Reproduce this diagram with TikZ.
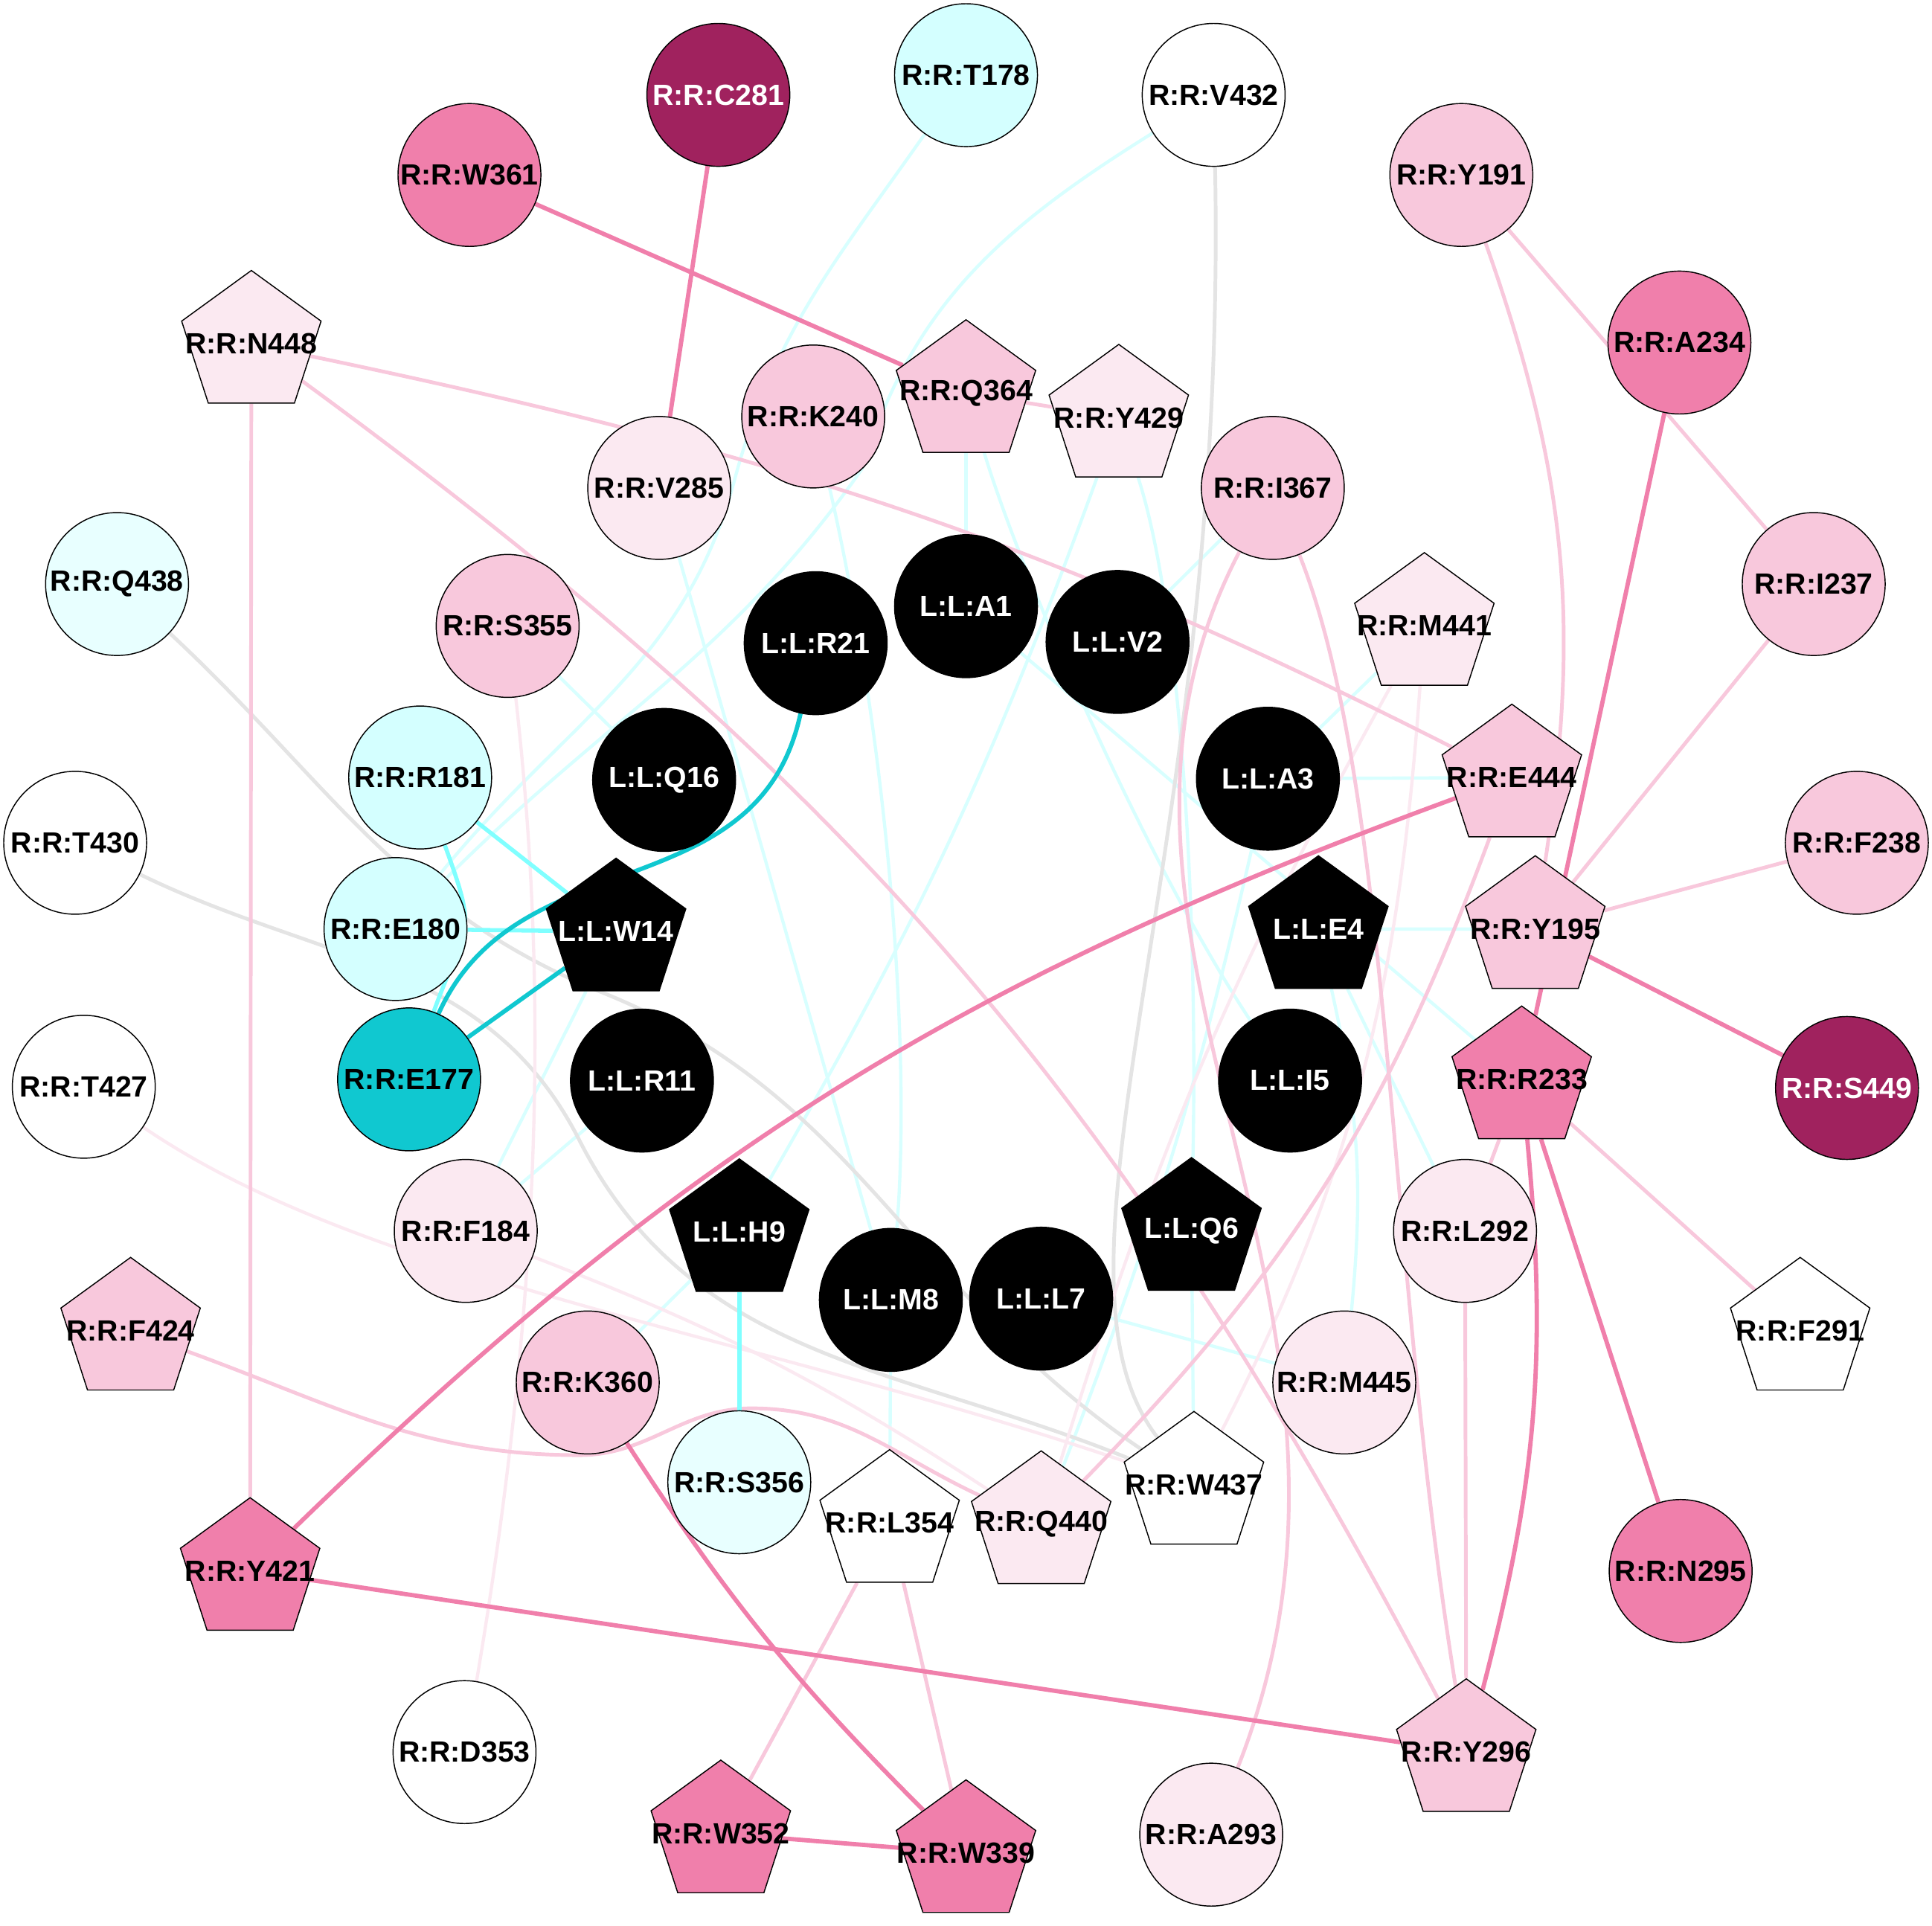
\documentclass[tikz,border=0pt]{standalone}
\usepackage{fontspec}
\setmainfont{Liberation Sans}
\usetikzlibrary{shapes.geometric}
\pgfdeclarelayer{background}
\pgfsetlayers{background,main}
\definecolor{cP}{HTML}{F07FAB}
\definecolor{cD}{HTML}{A0225E}
\definecolor{cL}{HTML}{F8C8DC}
\definecolor{cVL}{HTML}{FBE9F1}
\definecolor{cC}{HTML}{D4FFFF}
\definecolor{cVC}{HTML}{E8FFFF}
\definecolor{cT}{HTML}{10C8D0}
\definecolor{eM}{HTML}{80FFFF}
\definecolor{eL}{HTML}{D8FFFF}
\definecolor{eG}{HTML}{E4E4E4}
\newcommand\resfont{\fontsize{13.5}{15}\selectfont\bfseries}
\newcommand\lb[1]{\makebox[0pt]{#1}}
\tikzset{
  res/.style={circle, draw=black, line width=0.5pt, minimum size=2.32cm, inner sep=0pt, font=\resfont},
  pent/.style={regular polygon, regular polygon sides=5, draw=black, line width=0.5pt, minimum size=2.38cm, inner sep=0pt, font=\resfont},
  lig/.style={fill=black, text=white},
  pS/.style={draw=cP, line width=2pt},
  pL/.style={draw=cL, line width=1.7pt},
  pV/.style={draw=cVL, line width=1.5pt},
  gE/.style={draw=eG, line width=1.7pt},
  cE/.style={draw=eL, line width=1.5pt},
  cM/.style={draw=eM, line width=1.9pt},
  cX/.style={draw=cT, line width=2pt},
}
\begin{document}
\begin{tikzpicture}[x=0.02cm, y=-0.02cm]
\useasboundingbox (0,0) rectangle (1568,1563);
% circles
\node[res, fill=cP] (W361) at (381,142) {\lb{R:R:W361}};
\node[res, fill=cD, text=white] (C281) at (583,77) {\lb{R:R:C281}};
\node[res, fill=cC] (T178) at (784,61) {\lb{R:R:T178}};
\node[res, fill=white] (V432) at (985,77) {\lb{R:R:V432}};
\node[res, fill=cL] (Y191) at (1186,142) {\lb{R:R:Y191}};
\node[res, fill=cP] (A234) at (1363,278) {\lb{R:R:A234}};
\node[res, fill=cL] (K240) at (660,338) {\lb{R:R:K240}};
\node[res, fill=cVL] (V285) at (535,396) {\lb{R:R:V285}};
\node[res, fill=cL] (I367) at (1033,396) {\lb{R:R:I367}};
\node[res, fill=cVC] (Q438) at (95,474) {\lb{R:R:Q438}};
\node[res, fill=cL] (I237) at (1472,474) {\lb{R:R:I237}};
\node[res, fill=cL] (S355) at (412,508) {\lb{R:R:S355}};
\node[res, lig] (A1) at (784,492) {\lb{L:L:A1}};
\node[res, lig] (V2) at (907,521) {\lb{L:L:V2}};
\node[res, lig] (R21) at (662,522) {\lb{L:L:R21}};
\node[res, fill=cC] (R181) at (341,631) {\lb{R:R:R181}};
\node[res, lig] (Q16) at (539,633) {\lb{L:L:Q16}};
\node[res, lig] (A3) at (1029,632) {\lb{L:L:A3}};
\node[res, fill=white] (T430) at (61,684) {\lb{R:R:T430}};
\node[res, fill=cL] (F238) at (1507,684) {\lb{R:R:F238}};
\node[res, fill=cC] (E180) at (321,754) {\lb{R:R:E180}};
\node[res, fill=cT] (E177) at (332,876) {\lb{R:R:E177}};
\node[res, lig] (R11) at (521,877) {\lb{L:L:R11}};
\node[res, lig] (I5) at (1047,877) {\lb{L:L:I5}};
\node[res, fill=white] (T427) at (68,882) {\lb{R:R:T427}};
\node[res, fill=cD, text=white] (S449) at (1499,883) {\lb{R:R:S449}};
\node[res, fill=cVL] (F184) at (378,999) {\lb{R:R:F184}};
\node[res, fill=cVL] (L292) at (1189,999) {\lb{R:R:L292}};
\node[res, lig] (M8) at (723,1055) {\lb{L:L:M8}};
\node[res, lig] (L7) at (845,1054) {\lb{L:L:L7}};
\node[res, fill=cL] (K360) at (477,1122) {\lb{R:R:K360}};
\node[res, fill=cVL] (M445) at (1091,1122) {\lb{R:R:M445}};
\node[res, fill=cVC] (S356) at (600,1203) {\lb{R:R:S356}};
\node[res, fill=cP] (N295) at (1364,1275) {\lb{R:R:N295}};
\node[res, fill=white] (D353) at (377,1422) {\lb{R:R:D353}};
\node[res, fill=cVL] (A293) at (983,1489) {\lb{R:R:A293}};
% pentagons
\node[pent, fill=cVL] (N448) at (204,279) {\lb{R:R:N448}};
\node[pent, fill=cL] (Q364) at (784,319) {\lb{R:R:Q364}};
\node[pent, fill=cVL] (Y429) at (908,339) {\lb{R:R:Y429}};
\node[pent, fill=cVL] (M441) at (1156,508) {\lb{R:R:M441}};
\node[pent, fill=cL] (E444) at (1227,631) {\lb{R:R:E444}};
\node[pent, lig] (W14) at (500,756) {\lb{L:L:W14}};
\node[pent, lig] (E4) at (1070,754) {\lb{L:L:E4}};
\node[pent, fill=cL] (Y195) at (1246,754) {\lb{R:R:Y195}};
\node[pent, fill=cP] (R233) at (1235,876) {\lb{R:R:R233}};
\node[pent, lig] (H9) at (600,1000) {\lb{L:L:H9}};
\node[pent, lig] (Q6) at (967,999) {\lb{L:L:Q6}};
\node[pent, fill=cL] (F424) at (106,1080) {\lb{R:R:F424}};
\node[pent, fill=white] (F291) at (1461,1080) {\lb{R:R:F291}};
\node[pent, fill=white] (W437) at (969,1205) {\lb{R:R:W437}};
\node[pent, fill=white] (L354) at (722,1236) {\lb{R:R:L354}};
\node[pent, fill=cVL] (Q440) at (845,1237) {\lb{R:R:Q440}};
\node[pent, fill=cP] (Y421) at (203,1275) {\lb{R:R:Y421}};
\node[pent, fill=cL] (Y296) at (1190,1422) {\lb{R:R:Y296}};
\node[pent, fill=cP] (W352) at (585,1488) {\lb{R:R:W352}};
\node[pent, fill=cP] (W339) at (784,1504) {\lb{R:R:W339}};
% way points of curved connectors
\coordinate (f1) at (470,1181);
\coordinate (f2) at (610,1143);
\coordinate (wq) at (490,806);
\coordinate (wt) at (470,925);
\coordinate (wv) at (700,380);
\coordinate (wc) at (596,390);
\begin{pgfonlayer}{background}
% faint cyan
\draw[cE] (T178) to[out=235,in=75] (wc) to[out=255,in=51] (E180);
\draw[cE] (V432) to[out=212,in=73] (wv) to[out=235,in=45] (E180);
\draw[cE] (S355) -- (Q16);
\draw[cE] (Q364) -- (A1);
\draw[cE] (Q364) .. controls (830,470) and (930,700) .. (I5);
\draw[cE] (Y429) to[bend left=5] (H9);
\draw[cE] (Y429) .. controls (960,500) and (972,750) .. (Q6);
\draw[cE] (I367) -- (V2);
\draw[cE] (M441) -- (A3);
\draw[cE] (A3) -- (E444);
\draw[cE] (A1) -- (R233);
\draw[cE] (E4) -- (Y195);
\draw[cE] (Q6) -- (W437);
\draw[cE] (M8) -- (L354);
\draw[cE] (V285) -- (M8);
\draw[cE] (K240) .. controls (720,600) and (740,850) .. (M8);
\draw[cE] (L7) -- (M445);
\draw[cE] (E4) -- (L292);
\draw[cE] (E4) to[bend left=9] (M445);
\draw[cE] (F184) -- (W14);
\draw[cE] (F184) -- (R11);
\draw[cE] (H9) -- (K360);
\draw[cE] (A3) to[bend left=4] (Q440);
% grey
\draw[gE] (V432) .. controls (997,695) and (834,1030) .. (W437);
\draw[gE] (Q438) to[out=-43,in=158] (wq) to[out=-22,in=146] (W437);
\draw[gE] (T430) to[out=-26,in=117] (wt) to[out=-63,in=158] (W437);
% very light pink
\draw[pV] (S355) .. controls (445,800) and (440,1050) .. (D353);
\draw[pV] (T427) .. controls (300,1040) and (600,1080) .. (W437);
\draw[pV] (F184) to[bend left=6] (Q440);
\draw[pV] (M441) to[bend right=6] (Q440);
\draw[pV] (M441) .. controls (1135,800) and (1100,950) .. (W437);
% light pink
\draw[pL] (N448) .. controls (640,370) and (850,440) .. (E444);
\draw[pL] (N448) -- (Y421);
\draw[pL] (N448) to[bend left=13] (Y296);
\draw[pL] (Q364) -- (Y429);
\draw[pL] (Y191) to[bend left=14] (Y195);
\draw[pL] (Y191) -- (I237);
\draw[pL] (Y195) -- (F238);
\draw[pL] (Y195) -- (I237);
\draw[pL] (R233) -- (F291);
\draw[pL] (R233) -- (L292);
\draw[pL] (L292) -- (Y296);
\draw[pL] (I367) .. controls (1130,640) and (1125,1020) .. (Y296);
\draw[pL] (I367) .. controls (843,759) and (1153,1059) .. (A293);
\draw[pL] (L354) -- (W352);
\draw[pL] (L354) -- (W339);
\draw[pL] (F424) to[out=-20,in=180] (f1) to[out=0,in=180] (f2) to[out=0,in=155] (Q440);
\draw[pL] (E444) to[bend left=12] (Q440);
% medium / strong cyan
\draw[cM] (R181) -- (W14);
\draw[cM] (E180) -- (W14);
\draw[cM] (R181) to[out=-70,in=70,looseness=1.5] (E177);
\draw[cM] (H9) -- (S356);
\draw[cX] (W14) -- (E177);
\draw[cX] (R21) .. controls (615,740) and (420,680) .. (E177);
% strong pink
\draw[pS] (W361) -- (Q364);
\draw[pS] (C281) -- (V285);
\draw[pS] (A234) -- (R233);
\draw[pS] (Y195) -- (S449);
\draw[pS] (R233) -- (N295);
\draw[pS] (R233) to[bend left=10] (Y296);
\draw[pS] (Y421) to[bend left=12] (E444);
\draw[pS] (Y421) -- (Y296);
\draw[pS] (K360) to[bend right=6] (W339);
\draw[pS] (W352) -- (W339);
\end{pgfonlayer}
\end{tikzpicture}
\end{document}
